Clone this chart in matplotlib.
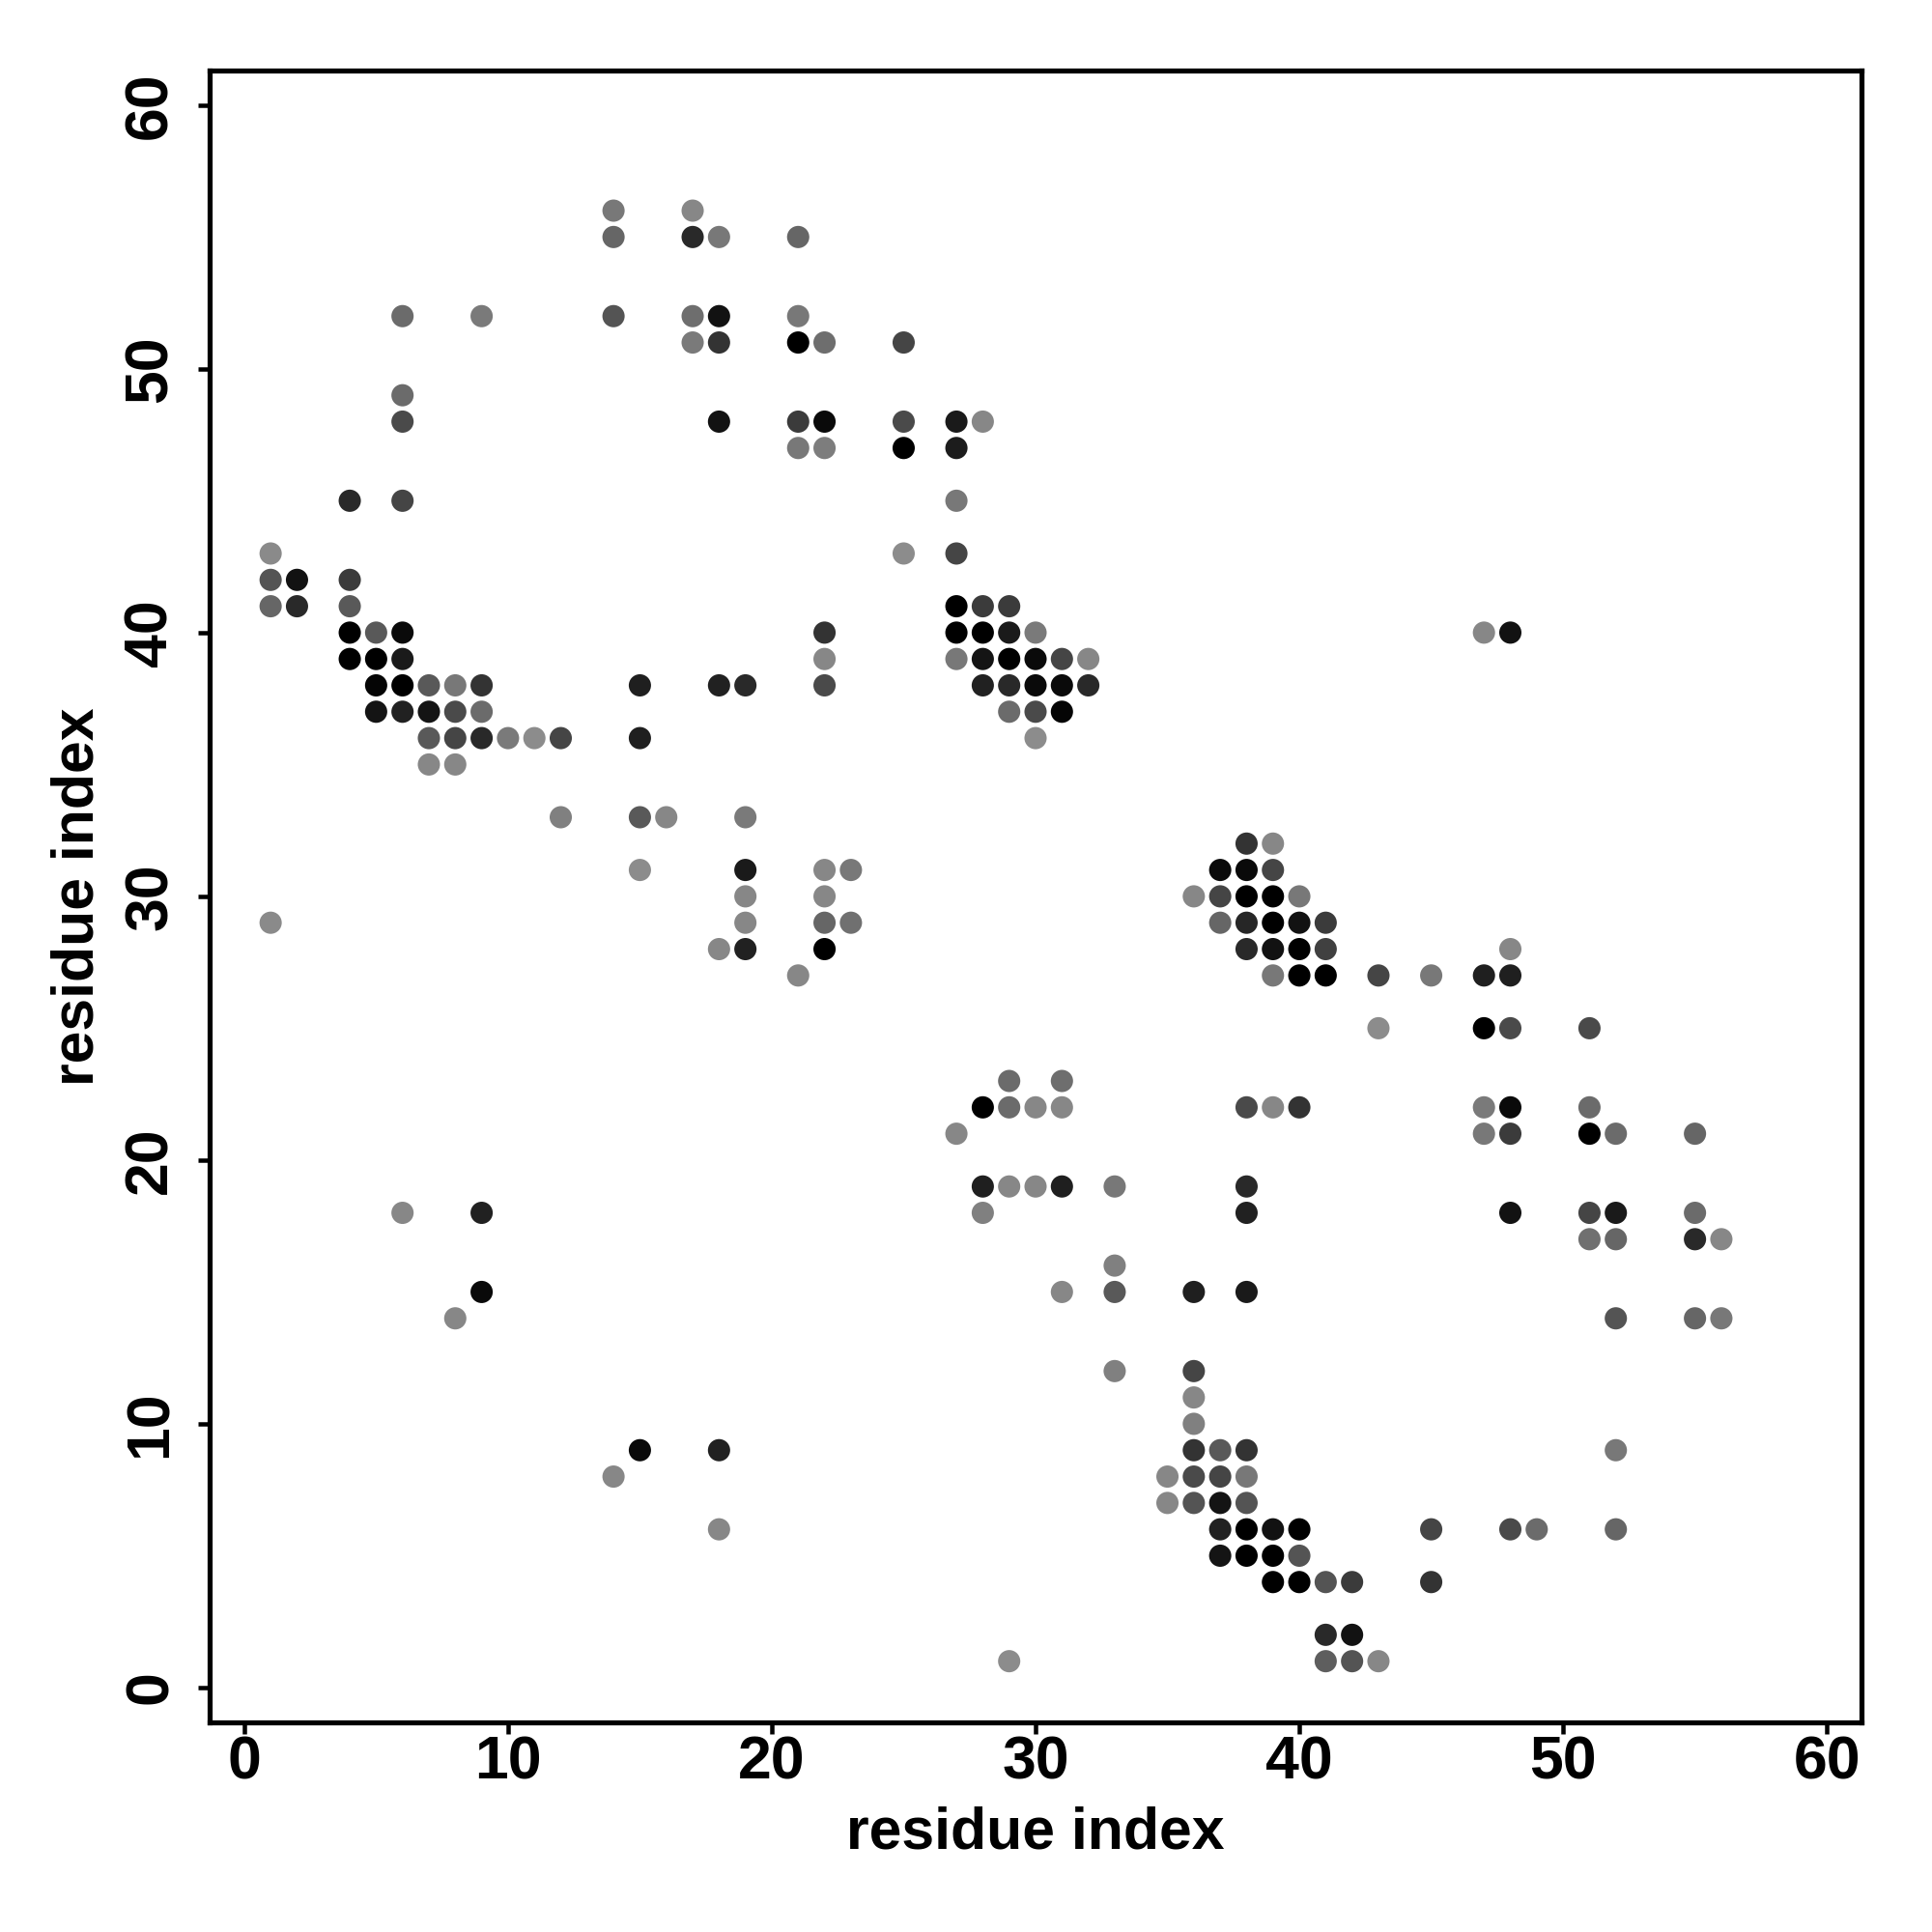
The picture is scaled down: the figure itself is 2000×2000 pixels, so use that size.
import numpy as np
import matplotlib
matplotlib.use("Agg")
import matplotlib.pyplot as plt

plt.rcParams['font.family'] = ['Liberation Sans', 'DejaVu Sans']
plt.rcParams['font.weight'] = 'bold'

# contact pairs (residue i, residue j) and grey level of each dot (0 = black)
res_i = [14, 17,
         14, 17, 18, 21,
         6, 9, 14, 17, 18, 21,
         17, 18, 21, 22, 25,
         6,
         6, 18, 21, 22, 25, 27, 28,
         21, 22, 25, 27,
         4, 6, 27,
         1, 25, 27,
         1, 2, 4,
         1, 2, 4, 27, 28, 29,
         4, 5, 6, 22, 27, 28, 29, 30, 47, 48,
         4, 5, 6, 22, 27, 28, 29, 30, 31, 32,
         5, 6, 7, 8, 9, 15, 18, 19, 22, 28, 29, 30, 31, 32,
         5, 6, 7, 8, 9, 29, 30, 31,
         7, 8, 9, 10, 11, 12, 15, 30,
         7, 8,
         12, 15, 16, 19,
         38, 39,
         15, 19, 22, 23, 37, 38, 39,
         19, 22, 36, 37, 38, 39, 40,
         1, 19, 22, 23, 37, 38, 39, 40, 41,
         18, 19, 22, 38, 39, 40, 41, 48,
         21, 39, 40, 41, 43, 45, 47, 48,
         43, 47, 48, 51,
         29, 31,
         28, 29, 30, 31, 38, 39, 40, 47, 48, 51,
         27, 47, 48, 51, 52, 55,
         28, 29, 30, 31, 33, 38,
         6, 9, 28, 38, 48, 51, 52, 55,
         51, 52, 55, 56,
         33,
         9, 31, 33, 36, 38,
         8, 52, 55, 56,
         33, 36,
         36,
         36,
         15, 18, 36, 37, 38, 52,
         14, 35, 36, 37, 38,
         35, 36, 37, 38,
         18, 37, 38, 39, 40, 45, 48, 49, 52,
         37, 38, 39, 40,
         39, 40, 41, 42, 45,
         41, 42,
         29, 41, 42, 43]

res_j = [56, 56,
         55, 55, 55, 55,
         52, 52, 52, 52, 52, 52,
         51, 51, 51, 51, 51,
         49,
         48, 48, 48, 48, 48, 48, 48,
         47, 47, 47, 47,
         45, 45, 45,
         43, 43, 43,
         42, 42, 42,
         41, 41, 41, 41, 41, 41,
         40, 40, 40, 40, 40, 40, 40, 40, 40, 40,
         39, 39, 39, 39, 39, 39, 39, 39, 39, 39,
         38, 38, 38, 38, 38, 38, 38, 38, 38, 38, 38, 38, 38, 38,
         37, 37, 37, 37, 37, 37, 37, 37,
         36, 36, 36, 36, 36, 36, 36, 36,
         35, 35,
         33, 33, 33, 33,
         32, 32,
         31, 31, 31, 31, 31, 31, 31,
         30, 30, 30, 30, 30, 30, 30,
         29, 29, 29, 29, 29, 29, 29, 29, 29,
         28, 28, 28, 28, 28, 28, 28, 28,
         27, 27, 27, 27, 27, 27, 27, 27,
         25, 25, 25, 25,
         23, 23,
         22, 22, 22, 22, 22, 22, 22, 22, 22, 22,
         21, 21, 21, 21, 21, 21,
         19, 19, 19, 19, 19, 19,
         18, 18, 18, 18, 18, 18, 18, 18,
         17, 17, 17, 17,
         16,
         15, 15, 15, 15, 15,
         14, 14, 14, 14,
         12, 12,
         11,
         10,
         9, 9, 9, 9, 9, 9,
         8, 8, 8, 8, 8,
         7, 7, 7, 7,
         6, 6, 6, 6, 6, 6, 6, 6, 6,
         5, 5, 5, 5,
         4, 4, 4, 4, 4,
         2, 2,
         1, 1, 1, 1]

grey = [0.47, 0.53,
        0.40, 0.16, 0.47, 0.40,
        0.42, 0.48, 0.33, 0.43, 0.07, 0.47,
        0.48, 0.20, 0.00, 0.43, 0.27,
        0.42,
        0.29, 0.07, 0.23, 0.04, 0.29, 0.10, 0.53,
        0.47, 0.49, 0.00, 0.11,
        0.16, 0.27, 0.47,
        0.54, 0.55, 0.27,
        0.33, 0.07, 0.23,
        0.40, 0.16, 0.35, 0.00, 0.23, 0.23,
        0.00, 0.35, 0.04, 0.20, 0.00, 0.00, 0.10, 0.48, 0.53, 0.07,
        0.00, 0.00, 0.10, 0.53, 0.47, 0.08, 0.00, 0.04, 0.27, 0.53,
        0.02, 0.00, 0.35, 0.47, 0.20, 0.12, 0.13, 0.16, 0.29, 0.13, 0.16, 0.04, 0.04, 0.16,
        0.08, 0.13, 0.08, 0.29, 0.42, 0.42, 0.29, 0.02,
        0.35, 0.27, 0.16, 0.48, 0.55, 0.27, 0.12, 0.55,
        0.53, 0.53,
        0.50, 0.35, 0.53, 0.48,
        0.20, 0.53,
        0.55, 0.10, 0.53, 0.47, 0.04, 0.04, 0.27,
        0.53, 0.53, 0.53, 0.27, 0.00, 0.00, 0.47,
        0.54, 0.53, 0.40, 0.44, 0.40, 0.15, 0.00, 0.07, 0.23,
        0.53, 0.13, 0.00, 0.16, 0.07, 0.00, 0.25, 0.53,
        0.53, 0.47, 0.00, 0.00, 0.27, 0.47, 0.12, 0.12,
        0.55, 0.00, 0.29, 0.29,
        0.42, 0.43,
        0.00, 0.42, 0.53, 0.53, 0.29, 0.53, 0.20, 0.48, 0.04, 0.42,
        0.53, 0.47, 0.23, 0.00, 0.42, 0.40,
        0.12, 0.53, 0.53, 0.12, 0.47, 0.16,
        0.53, 0.13, 0.50, 0.13, 0.07, 0.27, 0.10, 0.42,
        0.44, 0.40, 0.16, 0.53,
        0.50,
        0.04, 0.53, 0.35, 0.12, 0.10,
        0.53, 0.33, 0.40, 0.47,
        0.50, 0.27,
        0.53,
        0.50,
        0.04, 0.13, 0.20, 0.35, 0.20, 0.47,
        0.53, 0.53, 0.29, 0.27, 0.47,
        0.53, 0.33, 0.08, 0.33,
        0.53, 0.13, 0.00, 0.07, 0.00, 0.27, 0.29, 0.42, 0.40,
        0.08, 0.00, 0.00, 0.33,
        0.00, 0.00, 0.33, 0.23, 0.20,
        0.16, 0.07,
        0.55, 0.37, 0.33, 0.53]

cols = [(g, g, g) for g in grey]

fig = plt.figure(figsize=(8, 8), dpi=250)
ax = fig.add_axes([0.1084, 0.1085, 0.8552, 0.8551])
ax.scatter(res_i, res_j, s=44, c=cols, edgecolors='none')

ax.set_xlim(-1.32, 61.32)
ax.set_ylim(-1.32, 61.32)
ax.set_xticks(np.arange(0, 61, 10))
ax.set_yticks(np.arange(0, 61, 10))
for sp in ax.spines.values():
    sp.set_linewidth(1.5)
ax.tick_params(direction='out', length=3.5, width=1.3, labelsize=18)
ax.tick_params(axis='x', pad=0)
ax.tick_params(axis='y', pad=5.5)
for lab in ax.get_yticklabels():
    lab.set_rotation(90)
    lab.set_va('center')
ax.set_xlabel('residue index', fontsize=17.5, fontweight='bold', labelpad=4.5)
ax.set_ylabel('residue index', fontsize=17.5, fontweight='bold', labelpad=5)

plt.savefig('out.png', dpi=250)
